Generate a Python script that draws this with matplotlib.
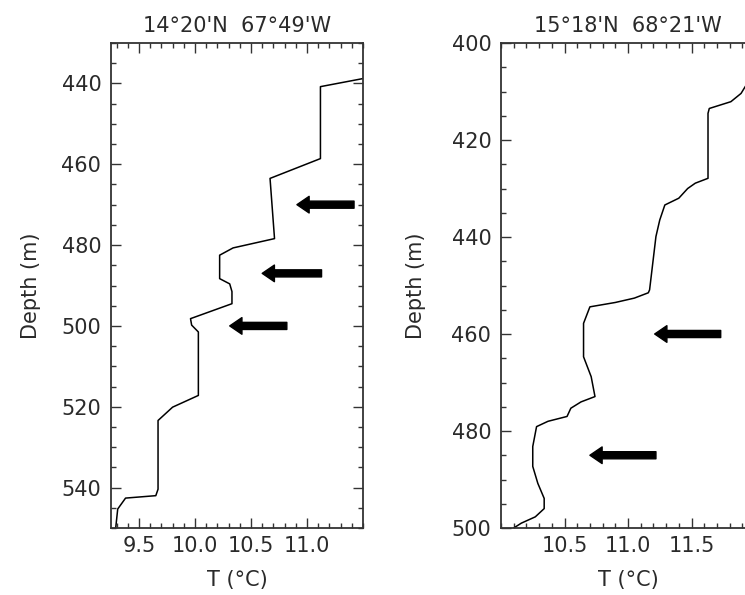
import numpy as np
import matplotlib
matplotlib.use("Agg")
import matplotlib.pyplot as plt
from matplotlib.ticker import MultipleLocator

plt.rcParams['font.family'] = ['DejaVu Sans']

# station 1: 14°20'N 67°49'W
t1 = [11.55, 11.50, 11.12, 11.12, 10.67, 10.71, 10.34, 10.22, 10.22, 10.31, 10.33, 10.33,
      9.96, 9.97, 10.03, 10.03, 9.80, 9.67, 9.67, 9.65, 9.38, 9.31, 9.29]
z1 = [438.6, 438.8, 440.8, 458.6, 463.5, 478.4, 480.7, 482.5, 488.3, 489.6, 491.5, 494.5,
      498.2, 499.8, 501.5, 517.2, 520.1, 523.4, 540.4, 542.0, 542.6, 545.3, 550.5]
arr1_z = [470, 487, 500]
arr1_head = [10.91, 10.60, 10.31]
arr1_tail = [11.42, 11.13, 10.82]

# station 2: 15°18'N 68°21'W
t2 = [12.05, 11.93, 11.89, 11.81, 11.64, 11.63, 11.63, 11.53, 11.47, 11.40, 11.29, 11.25,
      11.22, 11.17, 11.16, 11.05, 10.90, 10.70, 10.65, 10.65, 10.71, 10.74, 10.63, 10.55,
      10.52, 10.37, 10.28, 10.25, 10.25, 10.29, 10.34, 10.34, 10.27, 10.16, 10.10]
z2 = [406.8, 408.7, 410.4, 412.1, 413.5, 414.5, 427.9, 428.9, 430.0, 432.0, 433.4, 436.5,
      439.9, 450.9, 451.5, 452.6, 453.5, 454.4, 457.8, 464.7, 468.8, 472.9, 474.0, 475.3,
      477.0, 478.0, 479.1, 483.2, 487.3, 490.8, 493.9, 496.0, 497.7, 499.0, 500.0]
arr2_z = [460, 485]
arr2_head = [11.21, 10.70]
arr2_tail = [11.73, 11.22]

W, H = 745, 595
fig = plt.figure(figsize=(W / 100, H / 100), dpi=100)
ax1 = fig.add_axes([111 / W, 67 / H, 252 / W, 485 / H])
ax2 = fig.add_axes([501 / W, 67 / H, 254 / W, 485 / H])

panels = [
    (ax1, t1, z1, arr1_z, arr1_head, arr1_tail, "14°20'N  67°49'W", (9.25, 11.5), (550, 430), 440,
     [9.5, 10.0, 10.5, 11.0], 15),
    (ax2, t2, z2, arr2_z, arr2_head, arr2_tail, "15°18'N  68°21'W", (10.0, 12.0), (500, 400), 400,
     [10.5, 11.0, 11.5], 18),
]

txt = '#2a2a2a'
for ax, t, z, az, ah, at, title, xl, yl, y0, xt, ypad in panels:
    ax.plot(t, z, color='black', lw=1.1)
    for d, h, tl in zip(az, ah, at):
        ax.annotate('', xy=(h, d), xytext=(tl, d),
                    arrowprops=dict(arrowstyle='simple,head_width=0.75,head_length=0.55,tail_width=0.32',
                                    fc='black', ec='black', mutation_scale=16, shrinkA=0, shrinkB=0))
    ax.set_xlim(*xl)
    ax.set_ylim(*yl)
    ax.set_xticks(xt)
    ax.set_xticklabels(['%.1f' % v for v in xt])
    ax.xaxis.set_minor_locator(MultipleLocator(0.1))
    ax.set_yticks(np.arange(y0, yl[0] + 1, 20))
    ax.yaxis.set_minor_locator(MultipleLocator(5))
    ax.tick_params(which='both', direction='in', top=True, right=True, colors='#333333',
                   labelcolor=txt, labelsize=15, width=1.0)
    ax.tick_params(which='major', length=7)
    ax.tick_params(which='minor', length=3.5)
    ax.tick_params(axis='y', pad=7)
    ax.tick_params(axis='x', pad=6)
    for s in ax.spines.values():
        s.set_color('#333333')
        s.set_linewidth(1.3)
    ax.set_title(title, fontsize=15, pad=8, color=txt)
    ax.set_xlabel('T (°C)', fontsize=15, labelpad=10, color=txt)
    ax.set_ylabel('Depth (m)', fontsize=15, labelpad=ypad, color=txt)

fig.savefig('out.png', dpi=100)
